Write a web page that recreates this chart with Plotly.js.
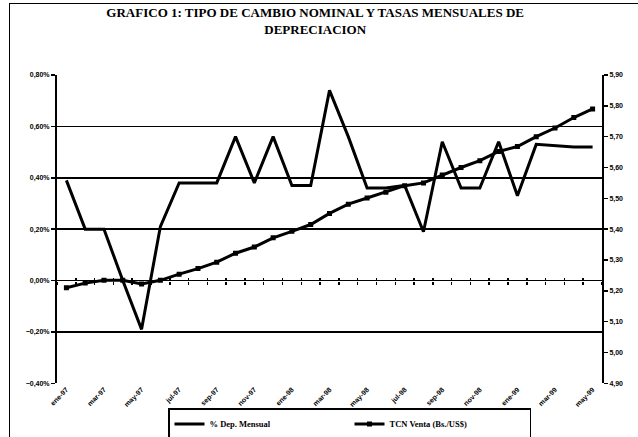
<!DOCTYPE html>
<html><head><meta charset="utf-8">
<script src="https://cdn.plot.ly/plotly-3.0.1.min.js"></script>
<style>html,body{margin:0;padding:0;background:#fff;overflow:hidden}#c{width:638px;height:437px}</style>
</head><body><div id="c"></div><script>
const months = ["ene-97","feb-97","mar-97","abr-97","may-97","jun-97","jul-97","ago-97","sep-97","oct-97","nov-97","dic-97",
  "ene-98","feb-98","mar-98","abr-98","may-98","jun-98","jul-98","ago-98","sep-98","oct-98","nov-98","dic-98",
  "ene-99","feb-99","mar-99","abr-99","may-99"];
const tickLabels = ["ene-97","mar-97","may-97","jul-97","sep-97","nov-97","ene-98","mar-98","may-98","jul-98","sep-98","nov-98","ene-99","mar-99","may-99"];
const depMensual = [0.39,0.20,0.20,0.00,-0.19,0.21,0.38,0.38,0.38,0.56,0.38,0.56,0.37,0.37,0.74,0.56,0.36,0.36,0.37,0.19,0.54,0.36,0.36,0.54,0.33,0.53,0.525,0.52,0.52];
const tcnVenta = [5.21,5.225,5.234,5.234,5.222,5.234,5.254,5.272,5.293,5.322,5.342,5.372,5.393,5.415,5.451,5.481,5.501,5.52,5.541,5.55,5.576,5.60,5.622,5.652,5.668,5.70,5.728,5.762,5.79];
const seriesNames = ["% Dep. Mensual","TCN Venta (Bs./US$)"];

const W = 638, H = 437;
const xDom = [57/W, 602/W];
const yDom = [(H-383.3)/H, (H-75)/H];
const zeroPos = yDom[0] + (yDom[1]-yDom[0])/3;

const tickFont = {family:"Liberation Sans, Arial", size:7, color:"#000", weight:"bold"};
const emptyY = months.map(() => null);
const carrier = (xa, ya) => ({x:months, y:emptyY, type:"scatter", mode:"lines", showlegend:false, hoverinfo:"skip", xaxis:xa, yaxis:ya});
const traces = [
  {x:months, y:depMensual, name:seriesNames[0], type:"scatter", mode:"lines",
   line:{color:"#000", width:3}, xaxis:"x", yaxis:"y"},
  {x:months, y:tcnVenta, name:seriesNames[1], type:"scatter", mode:"lines+markers",
   line:{color:"#000", width:3}, marker:{symbol:"square", size:5, color:"#000"}, xaxis:"x", yaxis:"y2"},
  // carriers (no visible marks): tick marks on the 0,00% line and the outer frame lines
  carrier("x2","y"), carrier("x3","y"), carrier("x4","y4")
];
const zeroTicks = (dir) => ({type:"category", overlaying:"x", anchor:"free", position:zeroPos, range:[-0.5,28.5],
    domain:xDom, tickson:"boundaries", ticks:dir, ticklen:3, tickwidth:1.5, tickcolor:"#000",
    showticklabels:false, showgrid:false, showline:false, zeroline:false});
const frameAxis = {showline:true, linecolor:"#000", linewidth:1.5, ticks:"", showticklabels:false,
    showgrid:false, zeroline:false, automargin:false};
const layout = {
  width:W, height:H,
  margin:{l:0, r:0, t:0, b:0, pad:0, autoexpand:false},
  paper_bgcolor:"#fff", plot_bgcolor:"rgba(0,0,0,0)",
  separators:",.",
  showlegend:true,
  title:{text:"<b>GRAFICO 1: TIPO DE CAMBIO NOMINAL Y TASAS MENSUALES DE<br>DEPRECIACION</b>",
    font:{family:"Liberation Serif, Times New Roman", size:13, color:"#000"},
    x:0.494, xref:"container", xanchor:"center", y:0.96, yref:"container", yanchor:"top"},
  xaxis:{type:"category", domain:xDom, range:[-0.5,28.5], tickvals:tickLabels, ticktext:tickLabels,
    tickangle:-45, tickfont:tickFont, showgrid:false, showline:false, ticks:"", zeroline:false,
    automargin:false},
  xaxis2:zeroTicks("outside"),
  xaxis3:zeroTicks("inside"),
  xaxis4:Object.assign({domain:[10/W, 1], anchor:"y4", side:"top", type:"category"}, frameAxis),
  yaxis4:Object.assign({domain:[0, (H-4)/H], anchor:"x4", side:"left", range:[0,1]}, frameAxis),
  yaxis:{domain:yDom, range:[-0.4,0.8], dtick:0.2, tick0:0, tickformat:".2f", ticksuffix:"%",
    tickfont:tickFont, showgrid:true, gridcolor:"#000", gridwidth:1.5, zeroline:false, automargin:false,
    showline:true, linecolor:"#000", linewidth:2, ticks:"outside", ticklen:4, tickcolor:"#000", tickwidth:1.5},
  yaxis2:{range:[4.9,5.9], dtick:0.1, tick0:4.9, tickformat:".2f", overlaying:"y", side:"right", anchor:"x",
    tickfont:tickFont, showgrid:false, zeroline:false, automargin:false,
    showline:true, linecolor:"#000", linewidth:2, ticks:"outside", ticklen:4, tickcolor:"#000", tickwidth:1.5},
  legend:{orientation:"h", x:168/W, xanchor:"left", y:(H-408)/H, yanchor:"top",
    bordercolor:"#000", borderwidth:1.5, bgcolor:"#fff",
    font:{family:"Liberation Serif, Times New Roman", size:8.5, color:"#000", weight:"bold"},
    entrywidth:135, itemwidth:30, tracegroupgap:0}
};
Plotly.newPlot("c", traces, layout, {displayModeBar:false, staticPlot:true});
</script></body></html>
